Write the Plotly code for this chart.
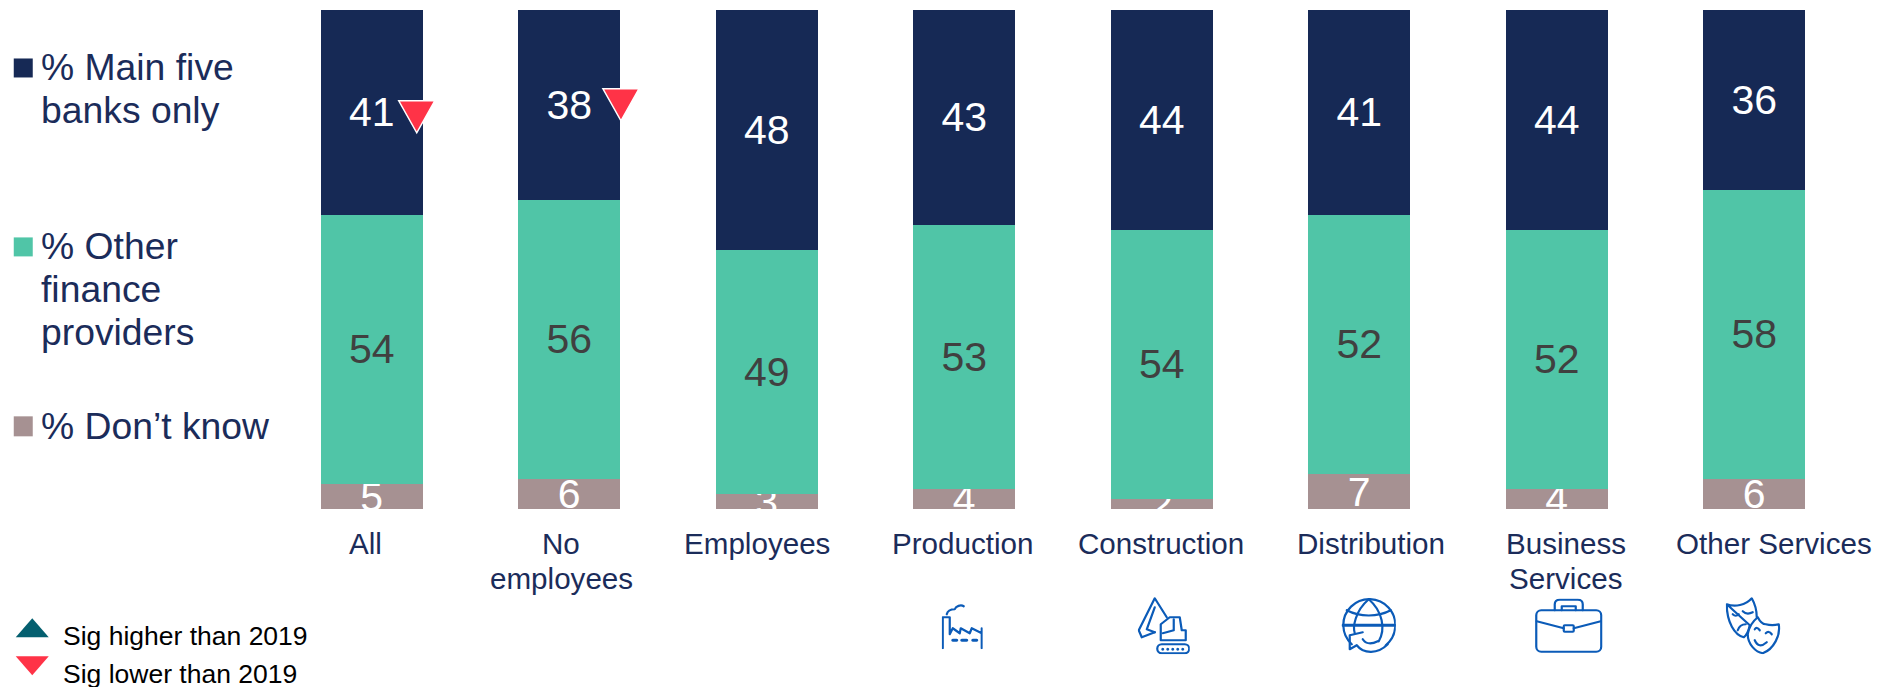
import plotly.graph_objects as go

categories = ["All", "No employees", "Employees", "Production", "Construction", "Distribution", "Business Services", "Other Services"]
main_five = [41, 38, 48, 43, 44, 41, 44, 36]
other_finance = [54, 56, 49, 53, 54, 52, 52, 58]
dont_know = [5, 6, 3, 4, 2, 7, 4, 6]
tick_lines = [["All"], ["No", "employees"], ["Employees"], ["Production"], ["Construction"], ["Distribution"], ["Business", "Services"], ["Other Services"]]
sig_lower = ["All", "No employees"]
legend_lines = [
    ("% Main five", 80), ("banks only", 123),
    ("% Other", 259), ("finance", 302.5), ("providers", 345),
    ("% Don’t know", 439),
]
NAVY, TEAL, GREY = "#162955", "#50C5A7", "#A69192"
TXT = "#1B2C5A"
ICON = "#0B5BB8"
FONT = "Liberation Sans"
W, H = 1879, 687
L, R, T, B = 273.25, 1853.25, 9.5, 508.7

xs = list(range(len(categories)))
fig = go.Figure()
for name, vals, col, tcol in [
    ("% Don't know", dont_know, GREY, "white"),
    ("% Other finance providers", other_finance, TEAL, "#404040"),
    ("% Main five banks only", main_five, NAVY, "white"),
]:
    fig.add_bar(x=xs, y=vals, name=name, marker=dict(color=col, line_width=0),
                text=vals, textposition="inside", insidetextanchor="middle", textangle=0,
                constraintext="none", insidetextfont=dict(family=FONT, size=41, color=tcol),
                cliponaxis=True, showlegend=False)

def px(x): return (x - L) / (R - L)
def py(y): return (B - y) / (B - T)
ann = []
shapes = []
def text(s, x, base, size, color, anchor="left"):
    ann.append(dict(text=s, x=px(x), y=py(base - 0.36 * size), xref="paper", yref="paper", xanchor=anchor, yanchor="middle",
                    showarrow=False, font=dict(family=FONT, size=size, color=color)))
def rect(x0, y0, x1, y1, c):
    shapes.append(dict(type="rect", xref="paper", yref="paper", x0=px(x0), x1=px(x1), y0=py(y0), y1=py(y1), fillcolor=c, line_width=0, layer="above"))
def poly(points, c):
    p = "M" + "L".join(f"{px(a):.5f},{py(b):.5f}" for a, b in points) + "Z"
    shapes.append(dict(type="path", xref="paper", yref="paper", path=p, fillcolor=c, line_width=0, layer="above"))

for s, b in legend_lines:
    text(s, 39, b, 37.3, TXT)
rect(14, 58, 33, 77, NAVY)
rect(14, 237, 33, 256, TEAL)
rect(14, 416, 33, 436, GREY)

text("Sig higher than 2019", 61.5, 645, 26.5, "black")
text("Sig lower than 2019", 61.5, 683.5, 26.5, "black")
poly([(16, 637), (49, 637), (32.5, 618)], "#045F6F")
poly([(16, 656), (49, 656), (32.5, 675)], "#FF3347")

tick_shift = [-6, -8, -10, -2, -1, 12, 9, 20]
for i, lines in enumerate(tick_lines):
    for j, s in enumerate(lines):
        ann.append(dict(text=s, x=i, xshift=tick_shift[i], y=py(554 + 35 * j - 0.36 * 29), xref="x", yref="paper",
                        xanchor="center", yanchor="middle", showarrow=False, font=dict(family=FONT, size=29.6, color=TXT)))

# significance triangles, anchored to the bars they mark
sig_pos = {"All": (45, 78.6), "No employees": (51.7, 81)}
for c in sig_lower:
    i = categories.index(c)
    dx, yv = sig_pos[c]
    shapes.append(dict(type="path", xref="x", yref="y", xsizemode="pixel", ysizemode="pixel", xanchor=i, yanchor=yv,
                       path=f"M{dx-18},16L{dx+18},16L{dx},-16Z", fillcolor="#FF3347", line=dict(color="white", width=1.5), layer="above"))

def icon(svg, x, y, w, h):
    uri = "data:image/svg+xml;utf8," + (f"<svg xmlns='http://www.w3.org/2000/svg' viewBox='0 0 {w} {h}' fill='none' stroke='{ICON}' stroke-width='2.2' "
                                        f"stroke-linejoin='round' stroke-linecap='round'>{svg}</svg>").replace("#", "%23")
    return dict(source=uri, xref="paper", yref="paper", x=px(x), y=py(y), sizex=w / (R - L), sizey=h / (B - T),
                xanchor="left", yanchor="top", layer="above", sizing="stretch")

factory = ("<path d='M1 45V14H8V31L11 25L18 30L19 25L28 30L30 25L40 30L40 25V45'/>"
           "<path d='M5 11C6 7 9 6 13 6C14 3 19 1 22 3'/><path d='M11 37H15M20 37H25M31 37H35' stroke-width='3'/>")
digger = ("<path d='M29 20L17 1L1 33L4 40L17 35'/><path d='M17 10L9 32L17 35'/>"
          "<path d='M23 42V27L32 20H42L44 33H48V43H23Z'/><path d='M36 22V33L25 36'/>"
          "<rect x='19.5' y='47' width='32' height='9' rx='4.5'/><path d='M25 52V52M30 52V52M35 52V52M40 52V52M45 52V52' stroke-width='3'/>")
globe = ("<path d='M10 47A26 26 0 1 1 44 48'/><path d='M27 2C13 14 11 30 13 36M27 2C41 14 44 32 37 44'/>"
         "<path d='M1 28H53' stroke-width='3'/><path d='M5 13C18 20 36 20 49 13'/>"
         "<path d='M21 35L8 38V52L15 48C22 57 36 57 46 47'/><path d='M21 42C24 47 30 47 36 44'/>")
case = ("<rect x='1.5' y='12' width='65' height='41.5' rx='5'/><path d='M20 12V6Q20 1.500 25 1.500H43Q48 1.500 48 6V12M27 12V8H41V12'/>"
        "<path d='M2 23L29 30M66 23L39 30'/><rect x='29' y='27' width='10' height='6.500' rx='1'/>")
masks = ("<path d='M1 7C9 10 20 8 26 1C30 8 31 14 31 20M24 28C23 33 21 38 18 40C9 38 1 25 1 7Z'/>"
         "<path d='M7 17Q10 20 13 17M17 14Q21 18 27 15M12 33Q14 27 20 27'/>"
         "<path d='M22 37C23 31 27 24 32 20C34 24 37 27 40 27C44 28 49 28 53 27C55 38 48 52 37 56C30 55 22 47 22 37Z'/>"
         "<path d='M29 32Q31 29 34 33M40 36Q43 33 46 37M29 43Q33 52 41 45'/>")
images = [
    icon(factory, 942, 603, 41, 46),
    icon(digger, 1138, 597, 52, 57),
    icon(globe, 1342, 597, 54, 56),
    icon(case, 1535, 598, 68, 55),
    icon(masks, 1726, 597, 55, 57),
]

fig.update_layout(
    barmode="stack", width=W, height=H, bargap=1 - 102 / 197.5,
    margin=dict(l=L, r=W - R, t=T, b=H - B, pad=0, autoexpand=False),
    plot_bgcolor="white", paper_bgcolor="white",
    xaxis=dict(range=[-0.5, 7.5], visible=False, fixedrange=True),
    yaxis=dict(range=[0, 100], visible=False, fixedrange=True),
    annotations=ann, shapes=shapes, images=images,
)
fig.write_html("out.html", post_script="document.body.style.margin='0';", config={"displayModeBar": False})
